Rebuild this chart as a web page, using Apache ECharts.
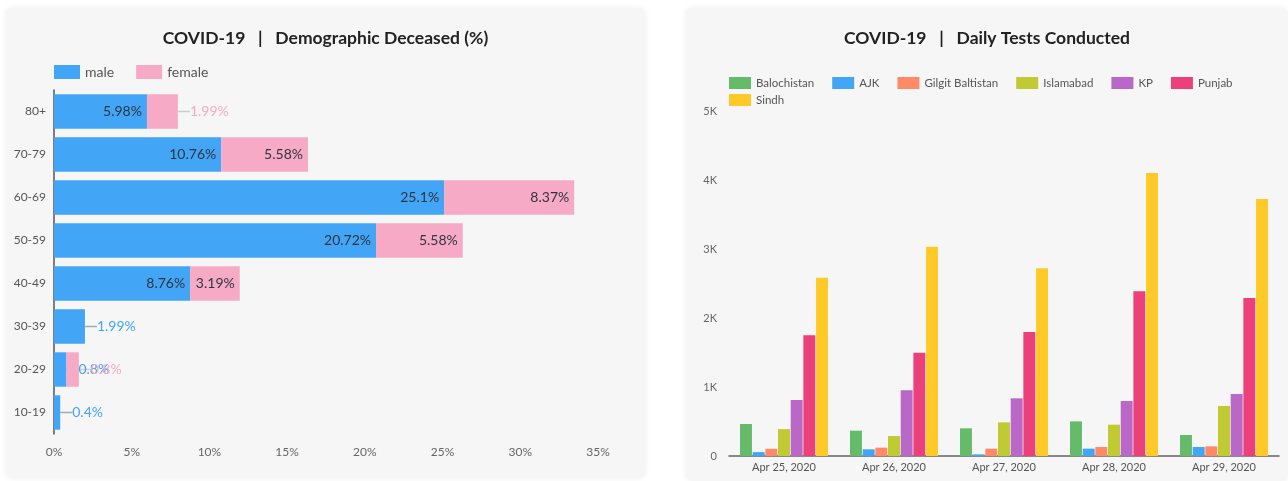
<!DOCTYPE html>
<html>
<head>
<meta charset="utf-8">
<script src="https://cdn.jsdelivr.net/npm/echarts@6/dist/echarts.min.js"></script>
<style>
  html, body { margin: 0; padding: 0; background: #ffffff; width: 1288px; height: 481px; overflow: hidden; }
  .panel { position: absolute; background: #f6f6f6; border-radius: 6px; box-shadow: 0 0 6px rgba(0,0,0,0.07); }
  #left { left: 6px; top: 8px; width: 639px; height: 470px; }
  #right { left: 686px; top: 8px; width: 602px; height: 473px; }
</style>
</head>
<body>
<div id="left" class="panel"></div>
<div id="right" class="panel"></div>
<script>
// ---- Left chart data ----
const ageGroups = ['10-19', '20-29', '30-39', '40-49', '50-59', '60-69', '70-79', '80+'];
const maleValues = [0.4, 0.8, 1.99, 8.76, 20.72, 25.1, 10.76, 5.98];
const femaleValues = [null, 0.8, null, 3.19, 5.58, 8.37, 5.58, 1.99];
const pctTicks = ['0%', '5%', '10%', '15%', '20%', '25%', '30%', '35%'];

// ---- Right chart data ----
const testDates = ['Apr 25, 2020', 'Apr 26, 2020', 'Apr 27, 2020', 'Apr 28, 2020', 'Apr 29, 2020'];
const balochistan = [464, 367, 401, 502, 304];
const ajk = [56, 97, 24, 106, 130];
const gilgitBaltistan = [104, 121, 106, 130, 140];
const islamabad = [390, 290, 488, 454, 725];
const kp = [812, 952, 836, 797, 899];
const punjab = [1749, 1497, 1797, 2386, 2290];
const sindh = [2584, 3034, 2720, 4101, 3725];

const FONT = 'Lato, "Noto Sans", sans-serif';
const MALE = '#42a5f5', FEMALE = '#f6aac5';

function itemsFor(vals, color) {
  return vals.map(v => {
    if (v == null) return null;
    const small = v < 2.5;
    return {
      value: v,
      label: small
        ? { position: 'right', color: color, distance: 2 }
        : { position: 'insideRight', color: '#2f3540' }
    };
  });
}

const left = echarts.init(document.getElementById('left'));
left.setOption({
  textStyle: { fontFamily: FONT },
  title: {
    text: 'COVID-19   |   Demographic Deceased (%)',
    left: 'center', top: 21, padding: 0,
    textStyle: { fontFamily: FONT, fontSize: 17.5, fontWeight: 'bold', color: '#222' }
  },
  legend: {
    left: 48, top: 57, padding: 0,
    itemWidth: 26, itemHeight: 14, itemGap: 22,
    icon: 'rect',
    textStyle: { fontFamily: FONT, fontSize: 14, color: '#555' },
    data: ['male', 'female']
  },
  grid: { left: 48, right: 47, top: 82, bottom: 44, containLabel: false },
  xAxis: {
    type: 'value', min: 0, max: 35, interval: 5,
    axisLine: { show: false }, axisTick: { show: false }, splitLine: { show: false },
    axisLabel: { color: '#666', fontSize: 12, fontFamily: FONT, margin: 12,
      formatter: v => pctTicks[v / 5] }
  },
  yAxis: {
    type: 'category', data: ageGroups,
    axisLine: { show: true, lineStyle: { color: '#555', width: 1.5 } },
    axisTick: { show: false },
    axisLabel: { color: '#555', fontSize: 12, fontFamily: FONT, margin: 8 }
  },
  series: [
    {
      name: 'male', type: 'bar', stack: 'a', barCategoryGap: '20%',
      itemStyle: { color: MALE },
      data: itemsFor(maleValues, MALE),
      label: { show: true, fontSize: 14, fontFamily: FONT, formatter: p => p.value + '%' },
      labelLayout: p => (maleValues[p.dataIndex] < 2.5 ? { dx: 10 } : {}),
      labelLine: { show: true, lineStyle: { color: '#aaa', width: 1.5 } }
    },
    {
      name: 'female', type: 'bar', stack: 'a', barCategoryGap: '20%',
      itemStyle: { color: FEMALE },
      data: itemsFor(femaleValues, FEMALE),
      label: { show: true, fontSize: 14, fontFamily: FONT, formatter: p => p.value + '%' },
      labelLayout: p => (femaleValues[p.dataIndex] != null && femaleValues[p.dataIndex] < 2.5 ? { dx: 10 } : {}),
      labelLine: { show: true, lineStyle: { color: '#ccc', width: 1.5 } }
    }
  ]
});

const right = echarts.init(document.getElementById('right'));
const provinces = [
  ['Balochistan', balochistan, '#66bb6a'],
  ['AJK', ajk, '#42a5f5'],
  ['Gilgit Baltistan', gilgitBaltistan, '#ff8a65'],
  ['Islamabad', islamabad, '#c0ca33'],
  ['KP', kp, '#ba68c8'],
  ['Punjab', punjab, '#ec407a'],
  ['Sindh', sindh, '#ffca28']
];
const legendCommon = {
  padding: 0, itemWidth: 22, itemHeight: 12, itemGap: 18, icon: 'rect',
  textStyle: { fontFamily: FONT, fontSize: 11.5, color: '#555' }
};
right.setOption({
  textStyle: { fontFamily: FONT },
  title: {
    text: 'COVID-19   |   Daily Tests Conducted',
    left: 'center', top: 21, padding: 0,
    textStyle: { fontFamily: FONT, fontSize: 17.5, fontWeight: 'bold', color: '#222' }
  },
  legend: [
    Object.assign({ left: 43, top: 69, data: provinces.slice(0, 6).map(p => p[0]) }, legendCommon),
    Object.assign({ left: 43, top: 86, data: provinces.slice(6).map(p => p[0]) }, legendCommon)
  ],
  grid: { left: 43, right: 9, top: 103, bottom: 25, containLabel: false },
  xAxis: {
    type: 'category', data: testDates,
    axisLine: { show: true, lineStyle: { color: '#666', width: 1.5 } },
    axisTick: { show: false },
    axisLabel: { color: '#555', fontSize: 11, fontFamily: FONT, margin: 6 }
  },
  yAxis: {
    type: 'value', min: 0, max: 5000, interval: 1000,
    axisLine: { show: false }, axisTick: { show: false }, splitLine: { show: false },
    axisLabel: { color: '#666', fontSize: 11, fontFamily: FONT, margin: 12,
      formatter: v => (v === 0 ? '0' : (v / 1000) + 'K') }
  },
  series: provinces.map(p => ({
    name: p[0], type: 'bar', data: p[1],
    barGap: '6%', barCategoryGap: '20%',
    itemStyle: { color: p[2] }
  }))
});
</script>
</body>
</html>
